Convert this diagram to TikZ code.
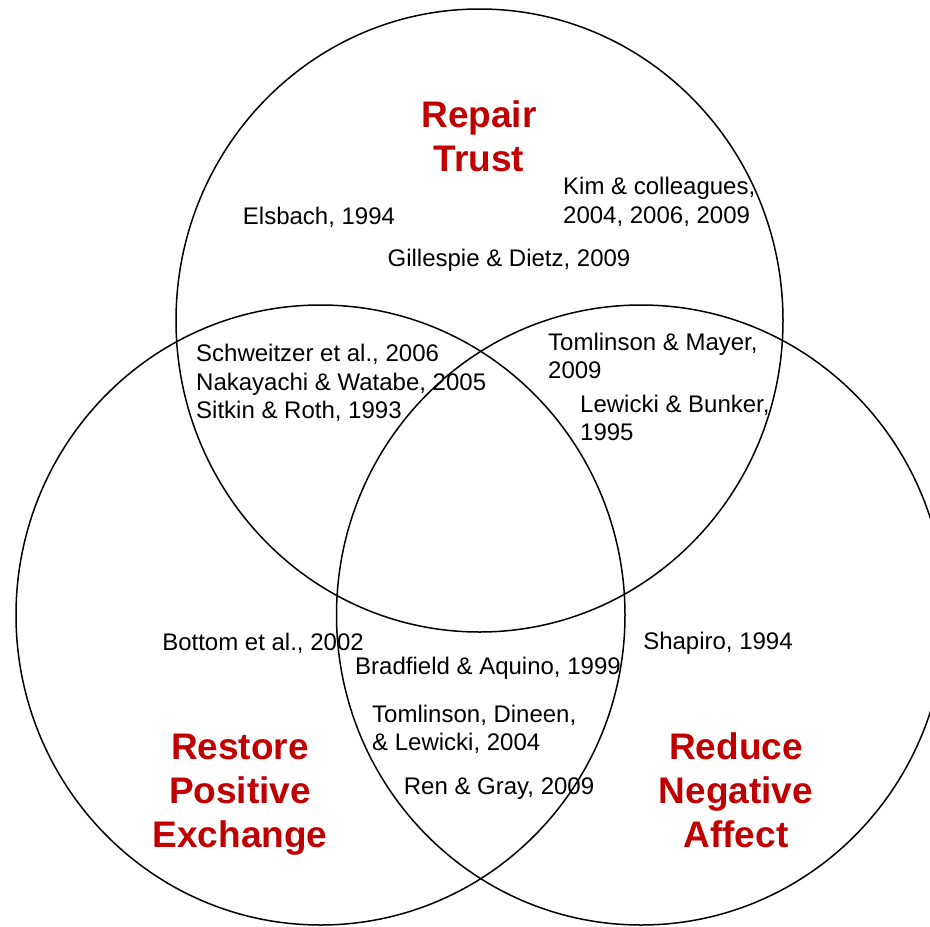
\documentclass[tikz,border=0pt]{standalone}
\usepackage{fontspec}
\setmainfont{Liberation Sans}
\usetikzlibrary{shapes.geometric}
\definecolor{headred}{HTML}{C00000}
\begin{document}
\begin{tikzpicture}[x=1pt,y=-1pt,
  setcircle/.style={ellipse,draw=black,line width=1.5pt,inner sep=0pt},
  cite/.style={inner sep=0pt,font=\fontsize{24}{28.5}\selectfont,text=black},
  head/.style={inner sep=0pt,align=center,font=\fontsize{37}{44}\selectfont\bfseries,text=headred}]
\useasboundingbox (0,0) rectangle (930,927);
\clip (0,0) rectangle (930,927);
\node[setcircle,minimum width=607pt,minimum height=623pt] (trust) at (479.5,320.5) {};
\node[setcircle,minimum width=609pt,minimum height=620pt] (exchange) at (320.5,615) {};
\node[setcircle,minimum width=609pt,minimum height=620pt] (affect) at (641,615) {};

\node[head] (h1) at (479,136.5) {Repair\\Trust};
\node[head] (h2) at (240,795) {Restore\\Positive\\Exchange};
\node[head] (h3) at (736,790) {Reduce\\Negative\\Affect};

\node[cite,align=left,anchor=west] (kim) at (563,202) {Kim \& colleagues,\\2004, 2006, 2009};
\node[cite] (els) at (319,217) {Elsbach, 1994};
\node[cite] (gil) at (509,260) {Gillespie \& Dietz, 2009};
\node[cite,align=left,anchor=west] (sch) at (196,383) {Schweitzer et al., 2006\\Nakayachi \& Watabe, 2005\\Sitkin \& Roth, 1993};
\node[cite,align=left,anchor=west] (tom) at (548,356) {Tomlinson \& Mayer,\\2009};
\node[cite,align=left,anchor=west] (lew) at (580,418) {Lewicki \& Bunker,\\1995};
\node[cite] (bot) at (263,643) {Bottom et al., 2002};
\node[cite] (sha) at (718,643) {Shapiro, 1994};
\node[cite] (bra) at (488,668.5) {Bradfield \& Aquino, 1999};
\node[cite,align=left,anchor=west] (tdl) at (372,729.5) {Tomlinson, Dineen,\\\& Lewicki, 2004};
\node[cite] (ren) at (499,788.5) {Ren \& Gray, 2009};
\end{tikzpicture}
\end{document}
